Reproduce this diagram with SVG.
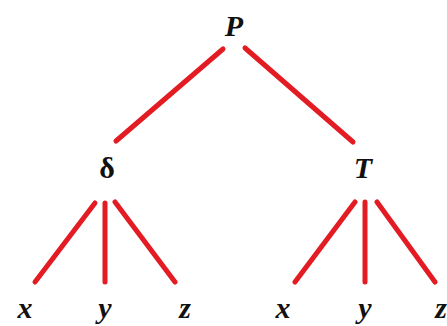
<svg xmlns="http://www.w3.org/2000/svg" width="447" height="326" viewBox="0 0 447 326">
<style>
.lbl{font-family:"Liberation Serif","Times New Roman",serif;font-size:30px;font-weight:bold;font-style:italic;fill:#111;text-anchor:middle}
.sym{font-family:"Liberation Serif","Times New Roman",serif;font-size:30px;font-weight:bold;fill:#111;text-anchor:middle}
.edge{stroke:#e31b23;stroke-width:5;stroke-linecap:round;fill:none}
</style>
<rect width="447" height="326" fill="#fff"/>
<g id="connectors">
<line class="edge" x1="223" y1="49" x2="116" y2="141"/>
<line class="edge" x1="245" y1="48" x2="353" y2="142"/>
<line class="edge" x1="95" y1="203" x2="35" y2="282"/>
<line class="edge" x1="105" y1="203" x2="105" y2="282"/>
<line class="edge" x1="115" y1="202" x2="175" y2="282"/>
<line class="edge" x1="355" y1="202" x2="295" y2="282"/>
<line class="edge" x1="365" y1="202" x2="365" y2="282"/>
<line class="edge" x1="377" y1="202" x2="435" y2="282"/>
</g>
<g id="node-P"><text class="lbl" x="234" y="36">P</text></g>
<g id="node-delta"><text class="sym" x="107" y="178">δ</text></g>
<g id="node-T"><text class="lbl" x="363" y="178">T</text></g>
<g id="node-x1"><text class="lbl" x="25" y="318">x</text></g>
<g id="node-y1"><text class="lbl" x="105" y="318">y</text></g>
<g id="node-z1"><text class="lbl" x="185" y="318">z</text></g>
<g id="node-x2"><text class="lbl" x="283" y="318">x</text></g>
<g id="node-y2"><text class="lbl" x="365" y="318">y</text></g>
<g id="node-z2"><text class="lbl" x="441" y="318">z</text></g>
</svg>
